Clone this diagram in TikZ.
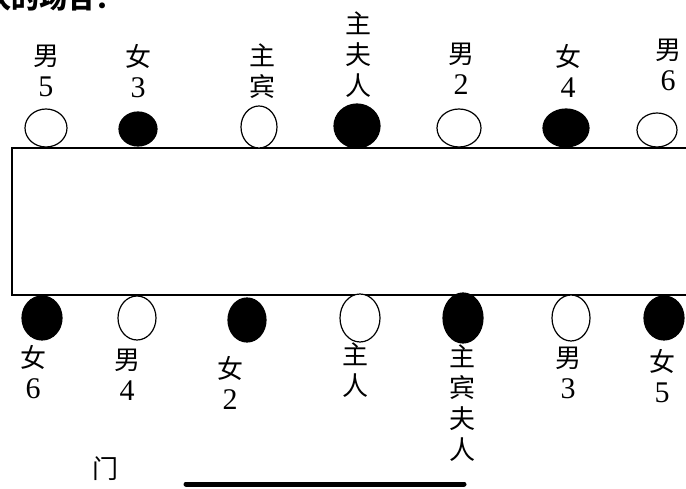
\documentclass[tikz,border=0pt]{standalone}
\usepackage{fontspec}
\setmainfont{Liberation Serif}
\newfontfamily\cjk{Noto Sans CJK SC}
\newcommand{\dg}[1]{{\rmfamily\fontsize{30}{31}\selectfont #1}}
\usetikzlibrary{shapes.geometric}
\begin{document}
\begin{tikzpicture}[x=1pt,y=-1pt,
  seat/.style={ellipse,draw,line width=1.2pt,inner sep=0pt},
  openseat/.style={seat,fill=white},
  fullseat/.style={seat,fill=black},
  lbl/.style={align=center,inner sep=0pt,font=\cjk\fontsize{26}{31}\selectfont}]
\useasboundingbox (0,0) rectangle (686,489);
\clip (0,0) rectangle (686,489);
% heading (cut off at the top)
\node[anchor=base west,inner sep=0pt,font=\cjk\bfseries\fontsize{28}{28}\selectfont] (head) at (-17,9) {次的场合：};
% table
\draw[line width=1.2pt] (12,148) rectangle (720,295);
% top seats
\node[openseat,minimum width=42pt,minimum height=38pt] (m5) at (46,128) {};
\node[fullseat,minimum width=38pt,minimum height=34pt] (f3) at (138,129) {};
\node[openseat,minimum width=36pt,minimum height=42pt] (gz) at (259,127) {};
\node[fullseat,minimum width=46pt,minimum height=44pt] (hf) at (357,126) {};
\node[openseat,minimum width=44pt,minimum height=38pt] (m2) at (459,128) {};
\node[fullseat,minimum width=46pt,minimum height=38pt] (f4) at (566,128) {};
\node[openseat,minimum width=40pt,minimum height=34pt] (m6) at (657,130) {};
% top labels
\node[lbl] (lm5) at (46,71) {男\\\dg{5}};
\node[lbl] (lf3) at (138,71) {女\\\dg{3}};
\node[lbl] (lgz) at (262,71) {主\\宾};
\node[lbl] (lhf) at (358,55) {主\\夫\\人};
\node[lbl] (lm2) at (461,69) {男\\\dg{2}};
\node[lbl] (lf4) at (568,71) {女\\\dg{4}};
\node[lbl] (lm6) at (668,65) {男\\\dg{6}};
% bottom seats
\node[fullseat,minimum width=40pt,minimum height=44pt] (f6) at (42,318) {};
\node[openseat,minimum width=38pt,minimum height=44pt] (m4) at (137,318) {};
\node[fullseat,minimum width=38pt,minimum height=44pt] (f2) at (247,320) {};
\node[openseat,minimum width=40pt,minimum height=48pt] (zr) at (360,318) {};
\node[fullseat,minimum width=40pt,minimum height=50pt] (gf) at (463,318) {};
\node[openseat,minimum width=38pt,minimum height=46pt] (m3) at (571,318) {};
\node[fullseat,minimum width=40pt,minimum height=44pt] (f5) at (664,318) {};
% bottom labels
\node[lbl] (lf6) at (33,372) {女\\\dg{6}};
\node[lbl] (lm4) at (127,375) {男\\\dg{4}};
\node[lbl] (lf2) at (230,383) {女\\\dg{2}};
\node[lbl] (lzr) at (355,370) {主\\人};
\node[lbl] (lgf) at (462,403) {主\\宾\\夫\\人};
\node[lbl] (lm3) at (568,373) {男\\\dg{3}};
\node[lbl] (lf5) at (662,376) {女\\\dg{5}};
% door
\node[lbl] (door) at (105,469) {门};
\coordinate (d1) at (186,484);
\coordinate (d2) at (464,484);
\draw[line width=5pt,line cap=round] (d1) -- (d2);
\end{tikzpicture}
\end{document}
